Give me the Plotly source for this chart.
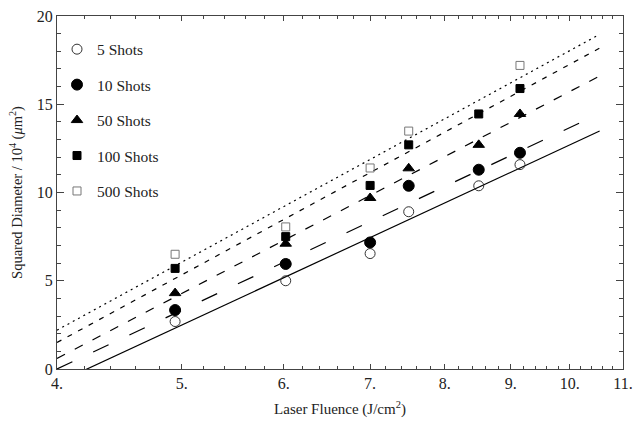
import numpy as np
import plotly.graph_objects as go

# ---- data ----
fluence = [4.94, 6.02, 7.0, 7.5, 8.5, 9.15]
shots_5 = [2.69, 5.0, 6.54, 8.91, 10.38, 11.58]
shots_10 = [3.34, 5.95, 7.17, 10.38, 11.29, 12.25]
shots_50 = [4.30, 7.1, 9.69, 11.37, 12.70, 14.45]
shots_100 = [5.70, 7.5, 10.40, 12.70, 14.45, 15.89]
shots_500 = [6.50, 8.05, 11.39, 13.48, None, 17.2]

series_names = ["5 Shots", "10 Shots", "50 Shots", "100 Shots", "500 Shots"]
series_values = [shots_5, shots_10, shots_50, shots_100, shots_500]

# fitted lines (linear in ln F), values read at the line ends
fit_fluence = [4.0, 10.55]
fit_5 = [-0.79, 13.48]
fit_10 = [0.0, 14.47]
fit_50 = [0.6, 16.6]
fit_100 = [1.5, 18.18]
fit_500 = [2.2, 18.96]
fit_values = [fit_5, fit_10, fit_50, fit_100, fit_500]

x_ticks = [4, 5, 6, 7, 8, 9, 10, 11]
x_ticktext = ["4.", "5.", "6.", "7.", "8.", "9.", "10.", "11."]
x_minor = [round(v, 1) for v in np.arange(4.0, 11.01, 0.2) if abs(v - round(v)) > 1e-6]
y_ticks = [0, 5, 10, 15, 20]

# ---- styles ----
symbols = ["circle-open", "circle", "triangle-up", "square", "square-open"]
mcolors = ["#333333", "#000000", "#000000", "#000000", "#777777"]
msizes = [10, 11, 10, 8, 8]
dashes = ["solid", "17px,23px", "9px,11px", "5px,7px", "2px,4px"]

FONT = "Liberation Serif"

fig = go.Figure()

for i, (name, fv) in enumerate(zip(series_names, fit_values)):
    # straight line in ln(F): sample between the two read end values
    t = np.linspace(0, 1, 50)
    lnx = np.log(fit_fluence[0]) + t * (np.log(fit_fluence[1]) - np.log(fit_fluence[0]))
    xf = np.exp(lnx)
    yf = fv[0] + t * (fv[1] - fv[0])
    fig.add_trace(go.Scatter(
        x=xf, y=yf, mode="lines", showlegend=False, hoverinfo="skip",
        line=dict(color="black", width=1.2, dash=dashes[i]),
    ))

for i, (name, vals) in enumerate(zip(series_names, series_values)):
    fig.add_trace(go.Scatter(
        x=fluence, y=vals, mode="markers", name=name, legendgroup=name,
        marker=dict(symbol=symbols[i], size=msizes[i], color=mcolors[i],
                    line=dict(color=mcolors[i], width=1)),
    ))

axis_common = dict(
    showline=True, linecolor="#444444", linewidth=1, mirror="allticks",
    ticks="inside", tickcolor="#444444", showgrid=False, zeroline=False,
    tickfont=dict(family=FONT, size=16, color="#222222"),
    ticklabeloverflow="allow",
)

fig.update_xaxes(
    type="log", range=[np.log10(4), np.log10(11)],
    tickmode="array", tickvals=x_ticks, ticktext=x_ticktext,
    ticklen=5, tickwidth=1,
    minor=dict(tickmode="array", tickvals=x_minor, ticklen=3, ticks="inside",
               tickcolor="#444444", showgrid=False),
    title=dict(text="Laser Fluence (J/cm<sup>2</sup>)",
               font=dict(family=FONT, size=15, color="#222222"), standoff=12),
    **axis_common,
)
fig.update_yaxes(
    range=[0, 20], tickmode="array", tickvals=y_ticks,
    ticklen=7, tickwidth=1,
    minor=dict(dtick=1, tick0=0, ticklen=4, ticks="inside",
               tickcolor="#444444", showgrid=False),
    title=dict(text="Squared Diameter / 10<sup>4</sup> (<i>μ</i>m<sup>2</sup>)",
               font=dict(family=FONT, size=14.5, color="#222222"), standoff=10),
    **axis_common,
)

fig.update_layout(
    width=641, height=425,
    margin=dict(l=57, r=8, t=12, b=56),
    plot_bgcolor="white", paper_bgcolor="white",
    legend=dict(x=0.0, y=0.953, xanchor="left", yanchor="top",
                bgcolor="rgba(0,0,0,0)", tracegroupgap=12.3,
                font=dict(family=FONT, size=15.5, color="#222222")),
)

fig.write_html("out.html")
